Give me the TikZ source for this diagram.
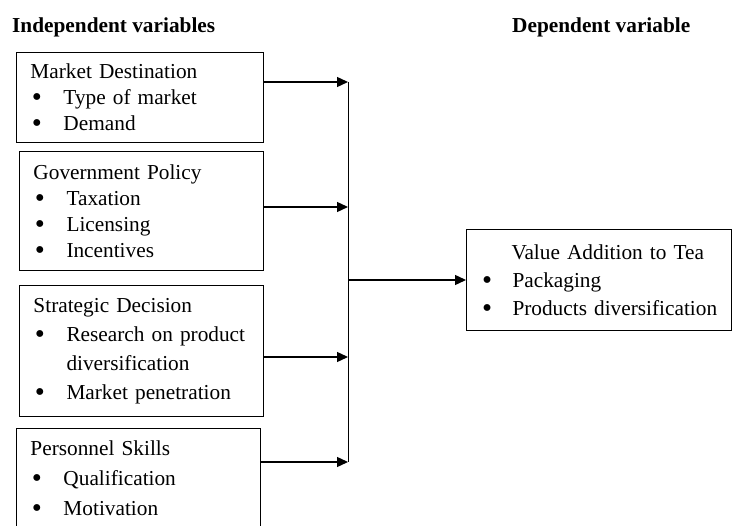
\documentclass[tikz,border=0pt]{standalone}
\usepackage{fontspec}
\setmainfont{Liberation Serif}
\usetikzlibrary{arrows.meta}
% bullet line inside a factor box: bullet, then the item text in its own column
\newcommand\bulletitem[2][33pt]{\makebox[#1][l]{\hspace{1.5pt}\smash{\raisebox{-2pt}{\scalebox{1.35}{\textbullet}}}}#2}
\begin{document}
\begin{tikzpicture}[x=1pt,y=-1pt,
  box/.style={draw, line width=1pt, anchor=north west, inner ysep=0pt,
              inner xsep=14pt, align=left},
  lbl/.style={font=\bfseries\fontsize{21.3}{26}\selectfont, anchor=base west, inner sep=0pt},
  link/.style={line width=1.4pt, -{Triangle[length=11pt,width=10pt]}},
  bus/.style={line width=1pt}]
\useasboundingbox (0,0) rectangle (732,526);
\clip (0,0) rectangle (732,526);

% column headings
\node[lbl] (indep) at (12,33) {Independent variables};
\node[lbl] (dep) at (512,33) {Dependent variable};

% independent variables
\node[box, font=\fontsize{21.3}{26}\selectfont, text width=219pt, minimum height=90pt]
  (md) at (16,52) {Market Destination\\ \bulletitem{Type of market}\\ \bulletitem{Demand}};
\node[box, font=\fontsize{21.3}{26}\selectfont, text width=216pt, minimum height=119pt]
  (gp) at (19,151) {Government Policy\\ \bulletitem{Taxation}\\ \bulletitem{Licensing}\\ \bulletitem{Incentives}};
\node[box, font=\fontsize{21.3}{29}\selectfont, text width=216pt, minimum height=131pt]
  (sd) at (19,285) {Strategic Decision\\ \bulletitem{Research on product}\\ \hspace*{33pt}diversification\\ \bulletitem{Market penetration}};
\node[box, font=\fontsize{21.3}{30}\selectfont, text width=216pt, minimum height=100pt]
  (ps) at (16,428) {Personnel Skills\\ \bulletitem{Qualification}\\ \bulletitem{Motivation}};

% dependent variable
\node[box, font=\fontsize{21.3}{28}\selectfont, text width=237pt, minimum height=101pt]
  (va) at (466,229) {\hspace*{31pt}Value Addition to Tea\\ \bulletitem[32pt]{Packaging}\\ \bulletitem[32pt]{\mbox{Products diversification}}};

% collecting bus
\coordinate (j1) at (348,82);
\coordinate (j2) at (348,207);
\coordinate (j3) at (348,357);
\coordinate (j4) at (348,462);
\coordinate (jm) at (j1 |- va.west);
\draw[bus] (j1) -- (j4);

\draw[link] (md.east |- j1) -- (j1);
\draw[link] (gp.east |- j2) -- (j2);
\draw[link] (sd.east |- j3) -- (j3);
\draw[link] (ps.east |- j4) -- (j4);
\draw[link] (jm) -- (va.west);
\end{tikzpicture}
\end{document}
